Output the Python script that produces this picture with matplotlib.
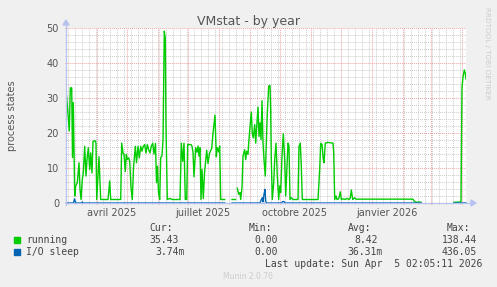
import datetime as dt
import numpy as np
import matplotlib
matplotlib.use("Agg")
import matplotlib.pyplot as plt
import matplotlib.dates as mdates
from matplotlib.patches import Rectangle, Polygon
from matplotlib.lines import Line2D

# ---------------- data ----------------
title = "VMstat - by year"
ylabel = "process states"
start = dt.datetime(2025, 3, 1, 2, 5, 11)
end = dt.datetime(2026, 4, 5, 2, 5, 11)

nan = float("nan")
running_days = [0.5, 2, 3.3, 4.3, 5.7, 6.5, 7.3, 8.7, 9.7, 11.3, 13, 14, 15, 16.3, 17.3, 18.7, 20, 21,
                22.3, 23.7, 24.7, 26, 27, 29, 30, 30.7, 33, 34.7, 42, 43.7, 44.7, 54.7, 55.7, 57, 58,
                59.3, 60.3, 61.3, 62.7, 63.7, 65, 66.3, 67.5, 69.3, 70.5, 72, 73.3, 74.7, 76, 77.3,
                78.7, 80, 81.3, 82.7, 84, 85.3, 86.7, 88, 89.5, 90.5, 91.5, 92.5, 93.7, 94.7, 96, 97,
                98.3, 99.3, 100, 101.3, 104, 106, 114, 115.3, 116.7, 118, 119.3, 120.7, 121.7, 125,
                126, 127, 128, 129.7, 131, 132, 133, 134, 135, 136, 137.3, 138.5, 140.7, 142, 143.5,
                145.7, 147, 149, 150.3, 151.3, 152.7, 153.7, 154.7, 158.7, 162, 166, 169.5, 170.5,
                171.3, 172.7, 174, 174.7, 176, 177, 178.7, 179.7, 180.7, 182, 182.7, 184, 185.3,
                186.3, 187.3, 188.7, 189.7, 190.7, 192, 193, 194, 195, 196, 197, 198, 199.3, 200.3,
                201.3, 202.7, 204, 204.7, 205.3, 206.3, 207.7, 208.7, 210, 211.3, 212.7, 213.7,
                214.7, 216, 217.3, 218.7, 219.7, 220.7, 222, 223, 224, 225.3, 227, 232, 233, 234.3,
                235.3, 236.3, 252, 253.7, 254.7, 256, 257.3, 258, 259.3, 262, 267, 267.7, 268.7,
                270, 271, 272.7, 274.3, 275.3, 277, 279, 281, 283, 284.3, 285.3, 286.7, 288.7, 290,
                347, 348, 349.3, 351, 353, 355, 370, 388, 395, 396, 397, 398.3, 399.3, 400]
running_vals = [30.8, 25.4, 20.6, 32.9, 32.9, 13, 28.7, 2, 4.9, 5.8, 11.5, 3.9, 1, 6.7, 8.6, 16.2, 7.7, 12.4,
                15.8, 9.6, 14.3, 8.6, 17.6, 17.8, 17.1, 1, 13.2, 1, 1, 6.3, 1, 1, 17.1, 14.3, 13.9,
                9, 13.9, 12.4, 12.9, 11.9, 4.5, 1, 10, 16.2, 11.5, 16.2, 12.9, 16.2, 14.8, 16.2,
                16.7, 14.3, 16.7, 15.2, 14.3, 16.2, 17.1, 14, 17, 5.8, 10.5, 3, 1, 13, 13.5, 18,
                49.1, 47, 21.9, 1, 1.3, 1, 1, 17.1, 11.9, 17.1, 1, 1, 16.7, 16.7,
                16.2, 14.5, 7.5, 15.8, 14.5, 16.3, 13.4, 15.8, 1, 9.6, 1.3, 8.5, 15.1, 11.3, 14.2,
                15.6, 19.9, 25.1, 13.2, 15.8, 14.6, 16.3, 1, 1, nan, 1, 1, nan,
                4.2, 2.5, 3, 1, 4.4, 13.4, 15.2, 12.4, 14.8, 13.9, 17.1, 21.9, 26,
                19.8, 18.6, 22.4, 17.1, 21.9, 27.4, 19, 22.9, 18.1, 29.2, 17.1, 12.4, 7.7, 17.1,
                25.8, 33.4, 33.6, 26.8, 12.4, 1, 5.8, 12.4, 17.1, 7.7, 1, 4.9,
                3, 13.4, 19.8, 12.4, 2, 8.6, 17.1, 16.2, 1, 1.5, 1, 1, 16.2, 17.1,
                10.5, 1, 1, 9.6, 17.1, 16.7, 12.4, 11.5, 17.1, 17.3, 17.1, 14.4, 1,
                2, 1, 1.2, 3.2, 1, 1.2, 1, 1.3, 1, 1.5, 3.7, 1, 1.5, 1.1,
                1.1, 0.6, 0.3, 0.2, 0.3, 0.2, nan, 0.2, 0.3, 33, 36, 38, 37, 35.43]

iosleep_days = [0.5, 7.5, 8.5, 9.5, 10.5, 15.5, 16.3, 17, 158.7, 162, 166, 169.5, 170.5, 171.3, 194,
                195.3, 196.3, 197, 198, 199, 199.7, 200.5, 215.5, 216.5, 218, 219, 355, 370, 388, 400]
iosleep_vals = [0, 0, 1.2, 0.2, 0, 0, 0.3, 0, 0, nan, 0, 0, nan, 0, 0,
                0.9, 1.5, 0.3, 2.5, 3.9, 0.5, 0, 0, 0.4, 0.4, 0, 0, nan, 0, 0.00374]

month_labels = ["avril 2025", "juillet 2025", "octobre 2025", "janvier 2026"]
month_label_dates = [dt.datetime(2025, 4, 16), dt.datetime(2025, 7, 16),
                     dt.datetime(2025, 10, 16), dt.datetime(2026, 1, 16)]

legend_names = ["running", "I/O sleep"]
legend_colors = ["#00CC00", "#0066B3"]
col_heads = ["Cur:", "Min:", "Avg:", "Max:"]
running_stats = ["35.43", "0.00", "8.42", "138.44"]
iosleep_stats = ["3.74m", "0.00", "36.31m", "436.05"]
last_update = "Last update: Sun Apr  5 02:05:11 2026"

# ---------------- figure ----------------
W, H = 497, 287
fig = plt.figure(figsize=(W / 100, H / 100), dpi=100, facecolor="#F0F0F0")

def fx(px):
    return px / W

def fy(py):
    return 1 - py / H

L, R, T, B = 66, 466, 28, 203
ax = fig.add_axes([fx(L), fy(B), (R - L) / W, (B - T) / H])
ax.set_facecolor("#FFFFFF")

t0 = mdates.date2num(start)
ax.set_xlim(t0, mdates.date2num(end))
ax.set_ylim(0, 50)

# grid
ax.xaxis.set_major_locator(mdates.MonthLocator())
ax.xaxis.set_minor_locator(mdates.WeekdayLocator(byweekday=mdates.MO))
ax.yaxis.set_major_locator(matplotlib.ticker.MultipleLocator(10))
ax.yaxis.set_minor_locator(matplotlib.ticker.MultipleLocator(2))
minor_col = "#C4C4C4"
major_col = "#E89494"
ax.grid(which="minor", color=minor_col, linestyle=(0, (1, 1.2)), linewidth=0.65)
ax.grid(which="major", color=major_col, linestyle=(0, (1, 1.2)), linewidth=0.65)
ax.set_axisbelow(True)
ax.xaxis.set_major_formatter(matplotlib.ticker.NullFormatter())
ax.tick_params(axis="x", which="major", length=2, direction="inout", color=major_col, width=0.7)
ax.tick_params(axis="x", which="minor", length=2, direction="inout", color=minor_col, width=0.7)
ax.tick_params(axis="y", which="major", length=2, direction="inout", color=major_col, width=0.7,
               labelsize=7, labelcolor="#555555", pad=4)
ax.tick_params(axis="y", which="minor", length=2, direction="inout", color=minor_col, width=0.7)
for s in ax.spines.values():
    s.set_visible(False)

# series
ax.plot(t0 + np.array(running_days), running_vals, color=legend_colors[0], lw=1.0, zorder=3)
ax.plot(t0 + np.array(iosleep_days), iosleep_vals, color=legend_colors[1], lw=1.0, zorder=4, clip_on=False)

# month labels
blend = matplotlib.transforms.blended_transform_factory(ax.transData, fig.transFigure)
for lab, d in zip(month_labels, month_label_dates):
    ax.text(mdates.date2num(d), fy(216.5), lab, transform=blend,
            ha="center", va="baseline", fontsize=7, color="#555555")

# axes lines with arrows
axis_col = "#B8C2F0"
fig.add_artist(Line2D([fx(L), fx(R + 6)], [fy(B), fy(B)], color=axis_col, lw=0.9))
fig.add_artist(Line2D([fx(L), fx(L)], [fy(B + 2), fy(T - 4)], color=axis_col, lw=0.9))
fig.add_artist(Polygon([[fx(R + 5), fy(B - 3)], [fx(R + 5), fy(B + 3)], [fx(R + 10), fy(B)]],
                       closed=True, color=axis_col, transform=fig.transFigure))
fig.add_artist(Polygon([[fx(L - 3), fy(T - 3)], [fx(L + 3), fy(T - 3)], [fx(L), fy(T - 8)]],
                       closed=True, color=axis_col, transform=fig.transFigure))

# title / labels
fig.text(fx(249), fy(24.7), title, ha="center", va="baseline", fontsize=9, color="#555555")
fig.text(fx(12), fy(115.5), ylabel, ha="center", va="center", rotation=90, fontsize=7, color="#555555")
fig.text(fx(487.5), fy(53), "RRDTOOL / TOBI OETIKER", ha="center", va="center", rotation=270,
         fontsize=5.2, color="#CCCCCC")

# legend
mono = "DejaVu Sans Mono"
txtc = "#444444"
head_right = [173, 272, 371, 470]
for h, xr in zip(col_heads, head_right):
    fig.text(fx(xr), fy(231), h, ha="right", va="baseline", fontsize=7, family=mono, color=txtc)

row_y = [243, 255]
sq_y = [237, 249]
stats = [running_stats, iosleep_stats]
val_right = [[179, 278, 378, 477], [185, 278, 383, 477]]
for i in range(2):
    fig.add_artist(Rectangle((fx(14), fy(sq_y[i] + 6)), 6 / W, 6 / H, color=legend_colors[i],
                             transform=fig.transFigure))
    fig.text(fx(26.5), fy(row_y[i]), legend_names[i], ha="left", va="baseline", fontsize=7,
             family=mono, color=txtc)
    for v, xr in zip(stats[i], val_right[i]):
        fig.text(fx(xr), fy(row_y[i]), v, ha="right", va="baseline", fontsize=7, family=mono, color=txtc)

fig.text(fx(482), fy(267), last_update, ha="right", va="baseline", fontsize=7, family=mono, color=txtc)
fig.text(fx(248), fy(279), "Munin 2.0.76", ha="center", va="baseline", fontsize=5.5, color="#CCCCCC")

fig.savefig("out.png", dpi=100, facecolor=fig.get_facecolor())
